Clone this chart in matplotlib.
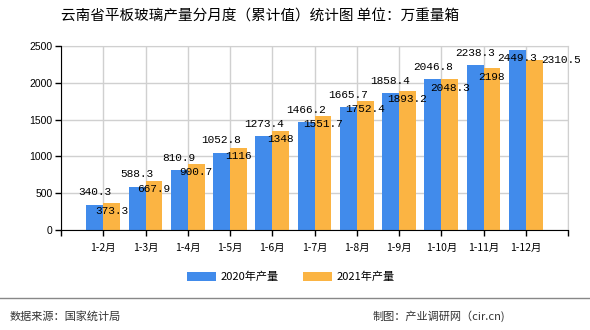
import matplotlib
matplotlib.use("Agg")
import matplotlib.pyplot as plt
from matplotlib.patches import Patch
from matplotlib.lines import Line2D
import numpy as np

plt.rcParams['font.family'] = ['Noto Sans CJK SC', 'DejaVu Sans']

categories = ["1-2月", "1-3月", "1-4月", "1-5月", "1-6月", "1-7月", "1-8月", "1-9月", "1-10月", "1-11月", "1-12月"]
values_2020 = [340.3, 588.3, 810.9, 1052.8, 1273.4, 1466.2, 1665.7, 1858.4, 2046.8, 2238.3, 2449.3]
values_2021 = [373.3, 667.9, 900.7, 1116, 1348, 1551.7, 1752.4, 1893.2, 2048.3, 2198, 2310.5]
labels_2020 = ["340.3", "588.3", "810.9", "1052.8", "1273.4", "1466.2", "1665.7", "1858.4", "2046.8", "2238.3", "2449.3"]
labels_2021 = ["373.3", "667.9", "900.7", "1116", "1348", "1551.7", "1752.4", "1893.2", "2048.3", "2198", "2310.5"]
series_names = ["2020年产量", "2021年产量"]
yticks = [0, 500, 1000, 1500, 2000, 2500]

blue = "#418BEB"
orange = "#FBB443"

fig = plt.figure(figsize=(5.9, 3.3), dpi=100)
ax = fig.add_axes([61/590, 1-230/330, (568-61)/590, (230-46)/330])

x = np.arange(len(categories))
w = 0.4
b1 = ax.bar(x - w/2, values_2020, width=w, color=blue, zorder=3)
b2 = ax.bar(x + w/2, values_2021, width=w, color=orange, zorder=3)

ax.set_xlim(-1, len(categories))
ax.set_ylim(0, 2500)
ax.set_yticks(yticks)
ax.set_yticklabels([str(t) for t in yticks], fontsize=7.5, family=['Liberation Sans', 'DejaVu Sans'])
ax.set_xticks(np.arange(-1, len(categories) + 1))
ax.set_xticklabels([""] + categories + [""], fontsize=7.5)
ax.tick_params(axis='both', direction='out', length=4, width=1, color='black', pad=2)
ax.tick_params(axis='x', pad=5)

ax.grid(True, color="#D0D0D0", linewidth=1, zorder=0)
for s in ['top', 'right']:
    ax.spines[s].set_color("#D0D0D0")
for s in ['left', 'bottom']:
    ax.spines[s].set_color("black")
    ax.spines[s].set_zorder(4)

mono = ['Liberation Mono', 'DejaVu Sans Mono']
n = len(categories)
for i in range(n):
    if i < n - 1:
        ax.annotate(labels_2020[i], (x[i] - w/2, values_2020[i]), xytext=(0, 9), textcoords='offset points',
                    ha='center', va='center', fontsize=8, family=mono, zorder=5)
        ax.annotate(labels_2021[i], (x[i] + w/2, values_2021[i]), xytext=(0, -6), textcoords='offset points',
                    ha='center', va='center', fontsize=8, family=mono, zorder=5)
    else:
        ax.annotate(labels_2020[i], (x[i] - w/2, values_2020[i]), xytext=(0, -6), textcoords='offset points',
                    ha='center', va='center', fontsize=8, family=mono, zorder=5)
        ax.annotate(labels_2021[i], (x[i] + w, values_2021[i]), xytext=(-1, 0), textcoords='offset points',
                    ha='left', va='center', fontsize=8, family=mono, zorder=5, annotation_clip=False)

fig.text(260/590, 1 - 17/330, "云南省平板玻璃产量分月度（累计值）统计图 单位：万重量箱", ha='center', va='center',
         fontsize=10.5, color='black')

handles = [Patch(facecolor=blue, edgecolor='none'), Patch(facecolor=orange, edgecolor='none')]
fig.legend(handles, series_names, loc='center', bbox_to_anchor=(291/590, 1 - 277/330), ncol=2,
           frameon=False, fontsize=8, handlelength=2.6, handleheight=0.8, columnspacing=2.2, handletextpad=0.4)

fig.add_artist(Line2D([0, 1], [1 - 298/330, 1 - 298/330], color="#888888", linewidth=1, transform=fig.transFigure))
fig.text(10/590, 1 - 316/330, "数据来源：国家统计局", ha='left', va='center', fontsize=8, color='#333333')
fig.text(505/590, 1 - 316/330, "制图：产业调研网（cir.cn)", ha='right', va='center', fontsize=8, color='#333333')

fig.savefig("out.png", dpi=100)
